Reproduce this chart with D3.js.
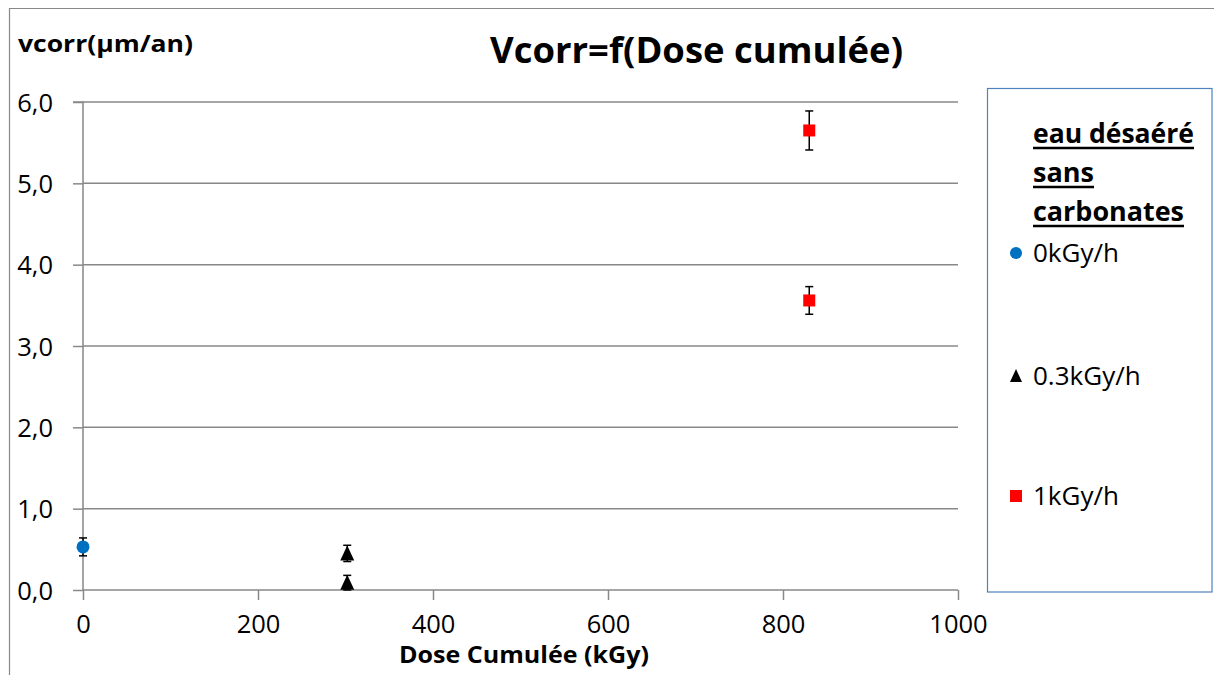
<!DOCTYPE html>
<html><head><meta charset="utf-8">
<script src="https://cdn.jsdelivr.net/npm/d3@7"></script>
<style>
html,body{margin:0;padding:0;background:#fff;}
svg{display:block;font-family:"Open Sans",Lato,sans-serif;}
</style></head>
<body><svg id="chart" width="1214" height="675"></svg>
<script>
// ---- data ----
const seriesNames = ["0kGy/h", "0.3kGy/h", "1kGy/h"];
const seriesColors = ["#0070C0", "#000000", "#FF0000"];
const seriesShapes = ["circle", "triangle", "square"];
const dose0 = [0];          const vcorr0 = [0.53];       const err0 = [0.11];
const dose1 = [302, 302];   const vcorr1 = [0.45, 0.09]; const err1 = [0.10, 0.09];
const dose2 = [830, 830];   const vcorr2 = [5.65, 3.56]; const err2 = [0.24, 0.17];
const xTicks = [0, 200, 400, 600, 800, 1000];
const yTicks = [0, 1, 2, 3, 4, 5, 6];
const titleText = "Vcorr=f(Dose cumulée)";
const xLabel = "Dose Cumulée (kGy)";
const yLabel = "vcorr(µm/an)";
const legendTitle = ["eau désaéré", "sans", "carbonates"];

const series = [
  {x: dose0, y: vcorr0, e: err0},
  {x: dose1, y: vcorr1, e: err1},
  {x: dose2, y: vcorr2, e: err2}
];

const svg = d3.select("#chart");
const grid = "#888888";

// outer chart border (top & left visible)
svg.append("path").attr("d", "M9.5,675 V8.5 H1214").attr("fill", "none").attr("stroke", grid).attr("stroke-width", 1.2);

const x = d3.scaleLinear().domain([0, 1000]).range([83, 958]);
const y = d3.scaleLinear().domain([0, 6]).range([590, 102]);

// gridlines
svg.append("g").selectAll("line").data(yTicks.filter(d => d > 0)).join("line")
  .attr("x1", x(0)).attr("x2", x(1000)).attr("y1", d => y(d)).attr("y2", d => y(d))
  .attr("stroke", grid).attr("stroke-width", 1.5);

// y axis
const yAxis = svg.append("g").attr("transform", `translate(${x(0)},0)`)
  .call(d3.axisLeft(y).tickValues(yTicks).tickSize(10).tickPadding(20)
    .tickFormat(d => d3.format(".1f")(d).replace(".", ",")));
yAxis.select(".domain").attr("stroke", grid).attr("stroke-width", 1.5).attr("d", `M-10,${y(6)}H0V${y(0)}`);
yAxis.selectAll(".tick line").attr("stroke", grid).attr("stroke-width", 1.5);
yAxis.selectAll(".tick text").attr("font-size", 25.5).attr("fill", "#000").attr("dy", "0.36em")
  .attr("font-family", "'Open Sans',sans-serif");

// x axis
const xAxis = svg.append("g").attr("transform", `translate(0,${y(0)})`)
  .call(d3.axisBottom(x).tickValues(xTicks).tickSize(10).tickPadding(22).tickFormat(d3.format("d")));
xAxis.select(".domain").attr("stroke", grid).attr("stroke-width", 1.5).attr("d", `M${x(0)},0H${x(1000)}`);
xAxis.selectAll(".tick line").attr("stroke", grid).attr("stroke-width", 1.5);
xAxis.selectAll(".tick text").attr("font-size", 25.5).attr("fill", "#000").attr("dy", "0.45em")
  .attr("font-family", "'Open Sans',sans-serif");

// titles
svg.append("text").attr("x", 490).attr("y", 63).attr("font-size", 35).attr("font-weight", "bold")
  .attr("textLength", 413).attr("lengthAdjust", "spacingAndGlyphs").text(titleText);
svg.append("text").attr("x", 18).attr("y", 52).attr("font-size", 23).attr("font-weight", "bold")
  .attr("textLength", 175).attr("lengthAdjust", "spacingAndGlyphs").text(yLabel);
svg.append("text").attr("x", 399).attr("y", 663).attr("font-size", 23).attr("font-weight", "bold")
  .attr("textLength", 250).attr("lengthAdjust", "spacingAndGlyphs").text(xLabel);

// marker helper
function drawMarker(g, shape, color, cx, cy, s) {
  if (shape === "circle") {
    g.append("circle").attr("cx", cx).attr("cy", cy).attr("r", s / 2).attr("fill", color);
  } else if (shape === "square") {
    g.append("rect").attr("x", cx - s / 2).attr("y", cy - s / 2).attr("width", s).attr("height", s).attr("fill", color);
  } else {
    g.append("path").attr("d", `M${cx},${cy - s / 2 - 1}L${cx + s / 2},${cy + s / 2}L${cx - s / 2},${cy + s / 2}Z`).attr("fill", color);
  }
}

// points + error bars
series.forEach((s, i) => {
  const g = svg.append("g");
  s.x.forEach((xv, j) => {
    const cx = x(xv), yt = y(s.y[j] + s.e[j]), yb = y(s.y[j] - s.e[j]);
    g.append("line").attr("x1", cx).attr("x2", cx).attr("y1", yt).attr("y2", yb).attr("stroke", "#000").attr("stroke-width", 1.5);
    [yt, yb].forEach(yy => g.append("line").attr("x1", cx - 4).attr("x2", cx + 4).attr("y1", yy).attr("y2", yy).attr("stroke", "#000").attr("stroke-width", 1.5));
  });
  s.x.forEach((xv, j) => drawMarker(g, seriesShapes[i], seriesColors[i], x(xv), y(s.y[j]), i === 0 ? 13 : (i === 1 ? 14 : 12)));
});

// legend
const lg = svg.append("g");
lg.append("rect").attr("x", 987.5).attr("y", 88.5).attr("width", 224.5).attr("height", 503.5)
  .attr("fill", "#fff").attr("stroke", "#4F81BD").attr("stroke-width", 1.2);
const titleWidths = [161, 61, 151];
legendTitle.forEach((t, i) => {
  lg.append("text").attr("x", 1033).attr("y", 143 + i * 39).attr("font-size", 26).attr("font-weight", "bold")
    .attr("textLength", titleWidths[i]).attr("lengthAdjust", "spacingAndGlyphs").text(t);
  lg.append("line").attr("x1", 1033).attr("x2", 1033 + titleWidths[i]).attr("y1", 148 + i * 39).attr("y2", 148 + i * 39)
    .attr("stroke", "#000").attr("stroke-width", 2.5);
});
const legendY = [253, 376, 496];
seriesNames.forEach((n, i) => {
  drawMarker(lg, seriesShapes[i], seriesColors[i], 1016, legendY[i], i === 0 ? 12 : 12);
  lg.append("text").attr("x", 1033).attr("y", legendY[i]).attr("dy", "0.36em").attr("font-size", 26).text(n);
});
</script></body></html>
